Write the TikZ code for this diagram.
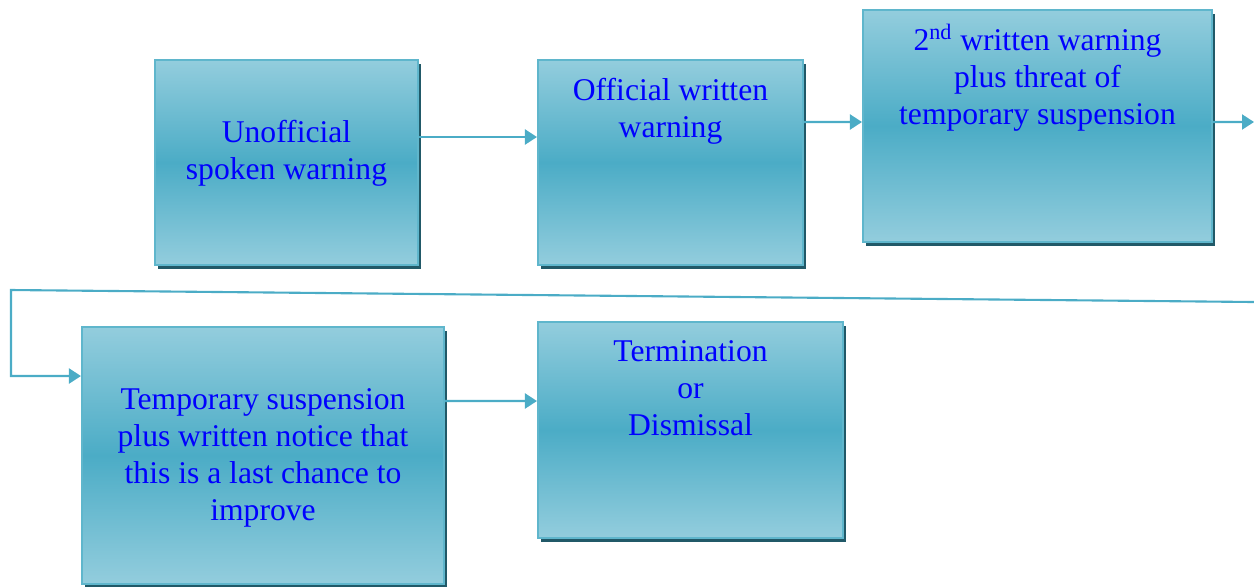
\documentclass[tikz,border=0pt]{standalone}
\usepackage{fontspec}
\setmainfont{Liberation Serif}
\usepackage{xcolor}
\usepackage{tikz}
\usetikzlibrary{arrows.meta,shadows}

\definecolor{BoxLight}{HTML}{93CDDD}
\definecolor{BoxMid}{HTML}{4BACC6}
\definecolor{BoxEdge}{HTML}{5FB6CC}
\definecolor{ShadowTeal}{HTML}{215968}
\definecolor{FlowLine}{HTML}{4BACC6}

\tikzset{
  stage/.style={draw=BoxEdge, line width=1.2pt, inner sep=0pt, align=center,
    top color=BoxLight, bottom color=BoxLight, middle color=BoxMid,
    text=blue, font=\fontsize{18}{21}\selectfont,
    drop shadow={shadow xshift=0.06cm, shadow yshift=-0.08cm, fill=ShadowTeal, opacity=1}},
  flow/.style={draw=FlowLine, line width=1.2pt, -{Triangle[length=0.24cm, width=0.3cm]}}
}

\begin{document}
\begin{tikzpicture}[x=0.02cm, y=-0.02cm]
\useasboundingbox (0,0) rectangle (1254,586);

    \node (Spoken) [stage, minimum width=5.26cm, text height=2.38cm, text depth=1.72cm] at (286.5,162.5) {Unofficial\\spoken warning};
    \node (Written) [stage, minimum width=5.3cm, text height=1.54cm, text depth=2.56cm] at (670.5,162.5) {Official written\\warning};
    \node (SecondWarning) [stage, minimum width=6.98cm, text height=2.28cm, text depth=2.36cm] at (1037.5,126) {2\textsuperscript{nd} written warning\\plus threat of\\temporary suspension};
    \node (Suspension) [stage, minimum width=7.24cm, text height=3.86cm, text depth=1.28cm] at (263,455.5) {Temporary suspension\\plus written notice that\\this is a last chance to\\improve};
    \node (Dismissal) [stage, minimum width=6.1cm, text height=2.26cm, text depth=2.06cm] at (690.5,430) {Termination\\or\\Dismissal};

    \coordinate (RowEnd) at (1254,122);
    \coordinate (WrapRight) at (1254,302);
    \coordinate (WrapLeft) at (11,290);

    \draw[flow] ([yshift=0.51cm]Spoken.east) -- ([yshift=0.51cm]Written.west);
    \draw[flow] ([yshift=0.81cm]Written.east) -- ([yshift=0.08cm]SecondWarning.west);
    \draw[flow] ([yshift=0.08cm]SecondWarning.east) -- (RowEnd);
%    return line to the second row
    \draw[flow] (WrapRight) -- (WrapLeft) |- ([yshift=1.59cm]Suspension.west);
    \draw[flow] ([yshift=1.09cm]Suspension.east) -- ([yshift=0.58cm]Dismissal.west);

\end{tikzpicture}
\end{document}
